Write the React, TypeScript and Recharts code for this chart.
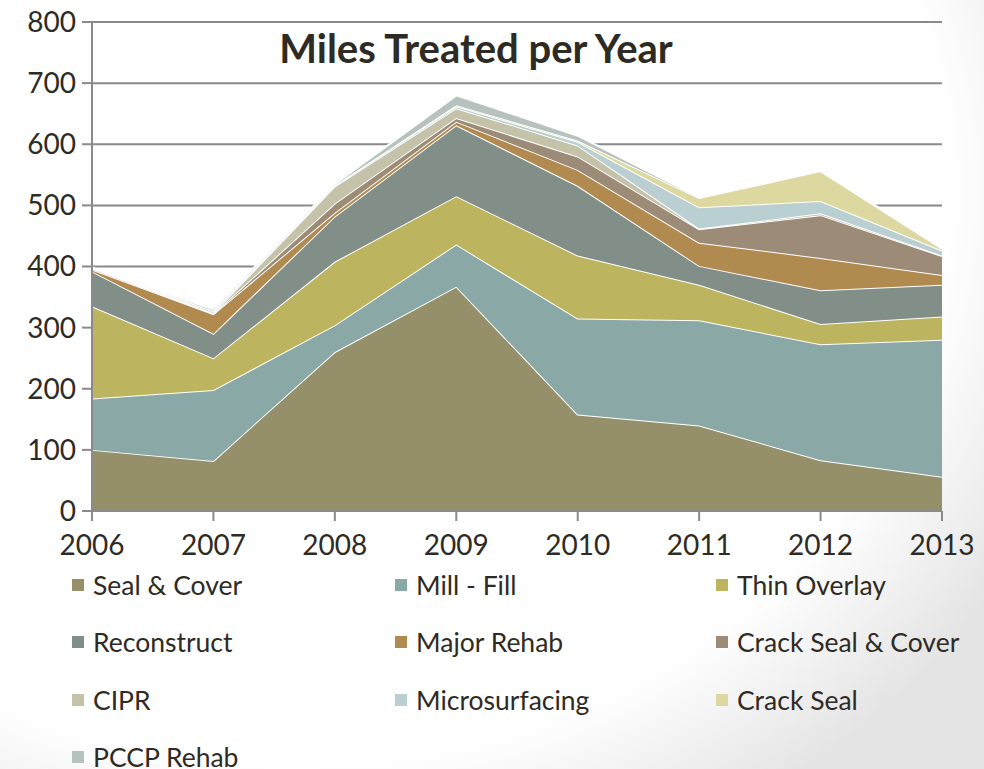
import { AreaChart, Area, XAxis, YAxis, CartesianGrid } from 'recharts';

const years = ['2006', '2007', '2008', '2009', '2010', '2011', '2012', '2013'];
const yTicks = [0, 100, 200, 300, 400, 500, 600, 700, 800];

const sealCover = [100, 82, 260, 367, 158, 140, 83, 56];
const millFill = [84, 116, 44, 69, 157, 172, 190, 224];
const thinOverlay = [151, 52, 104, 79, 103, 58, 33, 38];
const reconstruct = [57, 40, 74, 116, 114, 31, 55, 52];
const majorRehab = [3, 32, 6, 6, 26, 38, 53, 16];
const crackSealCover = [2, 1, 15, 6, 22, 22, 70, 31];
const cipr = [1, 1, 28, 16, 18, 1, 3, 1];
const microsurfacing = [0, 3, 2, 3, 6, 35, 20, 8];
const crackSeal = [0, 0, 0, 2, 2, 15, 49, 3];
const pccpRehab = [0, 3, 2, 16, 8, 1, 1, 1];

const SERIES = [
  { key: 'sealCover', name: 'Seal & Cover', color: '#958f6a', values: sealCover },
  { key: 'millFill', name: 'Mill - Fill', color: '#89a8a6', values: millFill },
  { key: 'thinOverlay', name: 'Thin Overlay', color: '#bcb45e', values: thinOverlay },
  { key: 'reconstruct', name: 'Reconstruct', color: '#828e88', values: reconstruct },
  { key: 'majorRehab', name: 'Major Rehab', color: '#b08a4e', values: majorRehab },
  { key: 'crackSealCover', name: 'Crack Seal & Cover', color: '#9c8b76', values: crackSealCover },
  { key: 'cipr', name: 'CIPR', color: '#c4c2a8', values: cipr },
  { key: 'microsurfacing', name: 'Microsurfacing', color: '#b9cfd1', values: microsurfacing },
  { key: 'crackSeal', name: 'Crack Seal', color: '#ddd8a0', values: crackSeal },
  { key: 'pccpRehab', name: 'PCCP Rehab', color: '#b7c2bf', values: pccpRehab },
];

const data = years.map((year, i) => {
  const row: Record<string, string | number> = { year };
  SERIES.forEach((s) => {
    row[s.key] = s.values[i];
  });
  return row;
});

const FONT = 'Lato, "Open Sans", sans-serif';
const TEXT = '#2e2b24';
const AXIS = '#8a8a8a';

function LegendGrid() {
  return (
    <div
      style={{
        position: 'absolute',
        left: 72,
        top: 556,
        width: 912,
        display: 'grid',
        gridTemplateColumns: '323px 321px 260px',
        fontFamily: FONT,
        fontSize: 26.5,
        color: TEXT,
      }}
    >
      {SERIES.map((s) => (
        <div
          key={s.key}
          style={{ display: 'flex', alignItems: 'center', height: 57.5, whiteSpace: 'nowrap' }}
        >
          <span
            style={{ width: 12, height: 12, background: s.color, marginRight: 9, display: 'inline-block' }}
          />
          {s.name}
        </div>
      ))}
    </div>
  );
}

export default function App() {
  return (
    <div
      style={{
        position: 'absolute',
        left: 0,
        top: 0,
        width: 984,
        height: 769,
        overflow: 'hidden',
        background: 'radial-gradient(ellipse 85% 95% at 30% 25%, #ffffff 78%, #e4e4e4 100%)',
      }}
    >
      <AreaChart
        width={984}
        height={769}
        data={data}
        margin={{ top: 22, right: 42, bottom: 208, left: 0 }}
      >
        <CartesianGrid vertical={false} stroke={AXIS} strokeWidth={2} />
        <XAxis
          dataKey="year"
          stroke={AXIS}
          strokeWidth={2}
          tickSize={10}
          tickMargin={14}
          height={50}
          tick={{ fill: TEXT, fontSize: 28, fontFamily: FONT }}
        />
        <YAxis
          width={92}
          domain={[0, 800]}
          ticks={yTicks}
          interval={0}
          stroke={AXIS}
          strokeWidth={2}
          tickSize={10}
          tickMargin={6}
          tick={{ fill: TEXT, fontSize: 28, fontFamily: FONT }}
        />
        {SERIES.map((s) => (
          <Area
            key={s.key}
            type="linear"
            dataKey={s.key}
            name={s.name}
            stackId="1"
            stroke="#ffffff"
            strokeWidth={2}
            fill={s.color}
            fillOpacity={1}
            isAnimationActive={false}
          />
        ))}
      </AreaChart>
      <LegendGrid />
      <div
        style={{
          position: 'absolute',
          left: 0,
          top: 24,
          width: 952,
          textAlign: 'center',
          fontFamily: FONT,
          fontWeight: 'bold',
          fontSize: 40,
          color: TEXT,
        }}
      >
        Miles Treated per Year
      </div>
    </div>
  );
}
